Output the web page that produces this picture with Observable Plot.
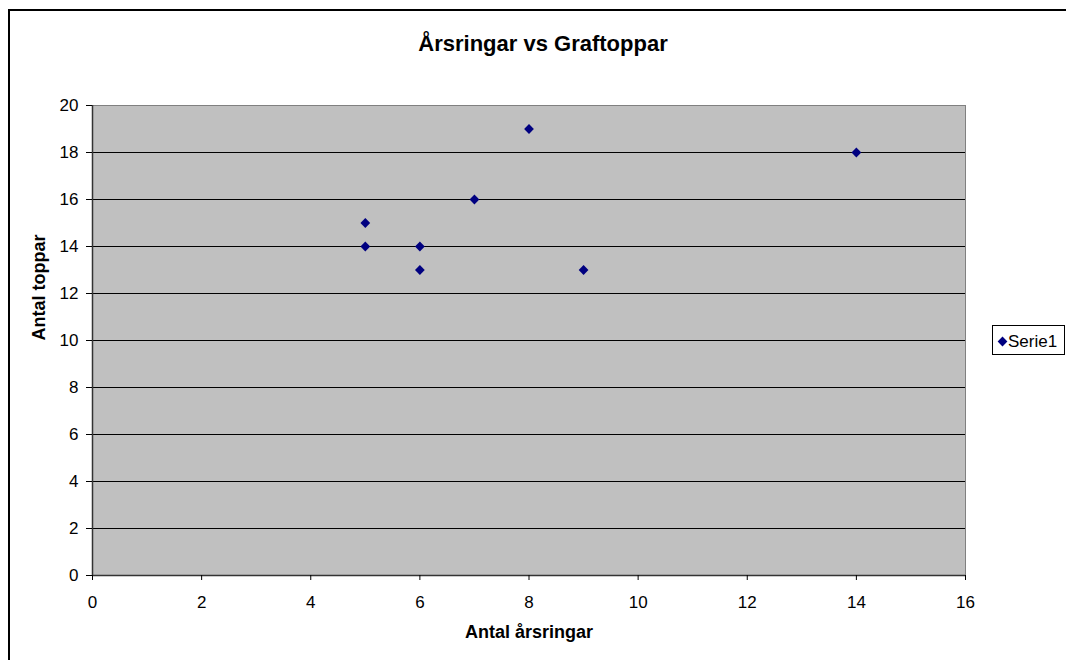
<!DOCTYPE html>
<html>
<head>
<meta charset="utf-8">
<script src="https://cdn.jsdelivr.net/npm/d3@7"></script>
<script src="https://cdn.jsdelivr.net/npm/@observablehq/plot@0.6"></script>
<style>
  html, body { margin: 0; padding: 0; background: #fff; }
  #chart { position: absolute; left: 0; top: 0; }
</style>
</head>
<body>
<div id="chart"></div>
<script>
// Tree rings vs. graph peaks
const rings = [5, 5, 6, 6, 7, 8, 9, 14];
const peaks = [15, 14, 14, 13, 16, 19, 13, 18];
const xTicks = [0, 2, 4, 6, 8, 10, 12, 14, 16];
const yTicks = [0, 2, 4, 6, 8, 10, 12, 14, 16, 18, 20];
const gridValues = [2, 4, 6, 8, 10, 12, 14, 16, 18];
const title = "Årsringar vs Graftoppar";
const xLabel = "Antal årsringar";
const yLabel = "Antal toppar";
const seriesName = "Serie1";

const points = rings.map((r, i) => ({rings: r, peaks: peaks[i]}));

const font = "'Liberation Sans', Arial, sans-serif";
const markerColor = "#000080";
const markerR = 4.4;

const chart = Plot.plot({
  width: 1066,
  height: 660,
  marginLeft: 92,
  marginRight: 101,
  marginTop: 105,
  marginBottom: 85,
  style: {fontFamily: font, fontSize: "17px", color: "#000", background: "#fff"},
  x: {domain: [0, 16]},
  y: {domain: [0, 20]},
  marks: [
    Plot.frame({fill: "#c0c0c0", stroke: "#808080"}),
    Plot.ruleY(gridValues, {stroke: "#000", strokeWidth: 1}),
    Plot.ruleY([0], {stroke: "#333", strokeWidth: 1.5}),
    Plot.ruleX([0], {stroke: "#333", strokeWidth: 1.5}),
    Plot.axisX({ticks: xTicks, tickSize: 5, tickPadding: 15, label: null, stroke: "#000", fontSize: 17}),
    Plot.axisY({ticks: yTicks, tickSize: 6, tickPadding: 8, label: null, stroke: "#000", fontSize: 17}),
    Plot.dot(points, {x: "rings", y: "peaks", symbol: "diamond2", r: markerR, fill: markerColor, stroke: "none"}),
    Plot.text([title], {frameAnchor: "top", dx: 14, dy: -62, fontSize: 22, fontWeight: "bold", lineAnchor: "middle"}),
    Plot.text([xLabel], {frameAnchor: "bottom", dy: 57, fontSize: 18, fontWeight: "bold", lineAnchor: "middle"}),
    Plot.text([yLabel], {frameAnchor: "left", dx: -53, rotate: -90, fontSize: 18, fontWeight: "bold", lineAnchor: "middle"})
  ]
});

const svg = d3.select(chart);

// Outer chart border (only the left and top edges fall inside the page)
svg.append("rect")
  .attr("x", 9).attr("y", 10)
  .attr("width", 1100).attr("height", 700)
  .attr("fill", "none").attr("stroke", "#000").attr("stroke-width", 2);

// Legend
const legend = svg.append("g").attr("transform", "translate(992,325)");
legend.append("rect")
  .attr("x", 0.5).attr("y", 0.5)
  .attr("width", 72).attr("height", 29)
  .attr("fill", "#fff").attr("stroke", "#000").attr("stroke-width", 1);
legend.append("path")
  .attr("d", d3.symbol(d3.symbolDiamond2, Math.PI * markerR * markerR)())
  .attr("transform", "translate(10.5,16.5)")
  .attr("fill", markerColor);
legend.append("text")
  .attr("x", 16).attr("y", 16)
  .attr("dy", "0.35em")
  .attr("text-anchor", "start")
  .attr("font-family", font)
  .attr("font-size", 17)
  .attr("fill", "#000")
  .text(seriesName);

document.getElementById("chart").appendChild(chart);
</script>
</body>
</html>
